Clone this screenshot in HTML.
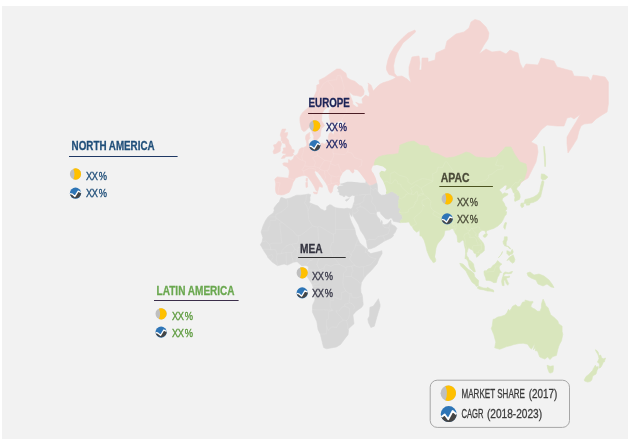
<!DOCTYPE html>
<html><head><meta charset="utf-8"><title>Regional market map</title>
<style>
html,body{margin:0;padding:0;background:#ffffff;}
body{width:630px;height:444px;overflow:hidden;position:relative;}
#panel{position:absolute;left:2px;top:6px;width:626px;height:433px;background:#f2f2f2;}
svg{position:absolute;left:0;top:0;}
text{font-family:"Liberation Sans",sans-serif;}
</style></head><body>
<div id="panel"></div>
<svg width="630" height="444" viewBox="0 0 630 444">
<g stroke-linejoin="round">
<path d="M284.2,194.6 L281.4,195.0 L277.0,194.2 L275.9,192.2 L275.4,189.0 L275.8,183.9 L274.8,179.1 L276.3,178.0 L277.2,176.9 L281.1,177.4 L284.5,177.7 L285.9,178.0 L288.0,178.0 L288.5,177.7 L289.1,174.3 L289.3,171.8 L289.1,170.1 L287.3,166.9 L283.6,165.4 L282.7,163.6 L284.1,162.7 L287.7,163.0 L288.5,163.0 L288.4,159.6 L288.9,159.6 L290.7,160.8 L291.4,160.2 L293.1,159.0 L294.0,156.5 L294.6,155.5 L295.4,155.4 L296.3,154.9 L297.4,154.3 L298.4,152.3 L299.5,149.0 L301.8,147.7 L303.6,147.7 L305.3,146.7 L306.6,146.0 L306.9,144.0 L306.1,140.5 L305.5,138.7 L305.7,136.2 L306.4,134.7 L308.9,132.9 L309.9,132.5 L309.8,133.6 L309.4,138.0 L310.5,137.6 L308.2,140.5 L308.2,142.9 L309.2,144.3 L310.5,145.7 L310.8,144.3 L312.6,145.0 L315.2,143.6 L316.5,146.0 L318.8,145.0 L321.1,143.6 L322.1,142.9 L324.3,144.3 L326.4,142.6 L328.5,139.8 L328.3,136.9 L329.2,133.6 L331.2,132.1 L333.6,135.1 L334.5,129.8 L332.7,127.5 L335.0,125.6 L340.7,125.6 L344.6,124.0 L341.9,120.8 L338.9,121.6 L335.4,122.8 L331.9,124.4 L330.4,122.0 L329.2,117.4 L329.2,110.6 L332.0,107.4 L336.1,101.9 L334.0,98.0 L330.4,99.0 L328.7,103.3 L327.1,107.4 L324.3,109.7 L322.0,113.6 L321.6,120.8 L324.6,125.6 L321.3,128.7 L320.7,132.1 L320.2,136.2 L318.8,138.0 L316.5,140.5 L314.5,140.8 L314.2,140.1 L313.7,138.7 L313.8,136.2 L312.2,132.5 L311.0,127.9 L309.9,126.0 L308.9,127.5 L305.3,131.0 L303.6,131.4 L301.8,129.8 L301.1,127.5 L300.0,122.0 L299.9,119.5 L300.0,117.0 L302.0,113.2 L304.8,110.6 L308.0,107.9 L310.6,104.2 L312.8,99.5 L316.7,90.5 L316.8,85.2 L319.5,84.1 L319.1,80.2 L324.6,77.4 L333.1,71.5 L336.8,69.0 L340.2,69.0 L346.0,73.3 L346.9,77.4 L350.4,79.7 L354.8,81.3 L359.3,85.2 L361.9,86.3 L364.2,91.0 L363.7,94.6 L361.0,96.6 L356.6,95.6 L353.1,95.1 L348.7,91.5 L352.7,101.9 L352.7,104.2 L356.6,107.0 L358.4,107.0 L358.0,104.7 L355.7,102.3 L359.3,103.8 L362.8,103.8 L361.9,99.0 L365.5,95.1 L369.0,97.0 L369.5,93.6 L368.1,89.4 L368.6,84.1 L367.8,83.0 L371.1,85.2 L373.3,91.0 L377.0,86.8 L380.0,84.3 L383.0,82.8 L388.6,81.0 L393.0,79.3 L396.0,77.3 L393.0,75.8 L389.0,74.5 L386.6,70.0 L386.4,67.0 L387.9,60.0 L390.0,54.3 L394.3,47.0 L398.6,42.0 L403.0,37.5 L408.0,33.0 L415.0,30.0 L415.5,32.0 L410.0,37.0 L403.0,43.0 L397.0,53.0 L395.0,58.6 L393.6,65.7 L394.3,73.0 L397.0,76.4 L402.0,76.0 L407.0,79.0 L411.0,82.6 L409.0,75.0 L409.0,67.0 L412.0,57.0 L419.0,56.0 L420.0,63.0 L419.0,70.0 L421.5,70.0 L422.0,58.0 L428.0,58.0 L428.0,62.0 L435.0,60.0 L436.0,53.0 L445.0,49.0 L447.0,41.0 L456.0,34.0 L464.0,32.0 L469.0,28.0 L471.0,22.0 L475.0,19.4 L480.0,21.0 L486.0,27.0 L489.0,33.0 L488.0,39.0 L484.0,45.0 L479.0,54.0 L486.0,49.0 L492.0,52.0 L500.0,51.0 L506.0,54.0 L510.0,50.0 L518.0,53.0 L520.0,63.0 L523.0,69.0 L526.0,64.0 L538.0,65.0 L541.0,58.0 L554.0,61.0 L557.0,67.0 L572.0,71.0 L574.0,76.0 L588.0,77.0 L591.0,81.0 L593.0,75.0 L605.0,77.0 L608.4,82.0 L608.4,104.0 L607.0,112.0 L602.0,115.0 L596.0,119.0 L592.0,123.0 L584.0,124.0 L581.0,126.0 L579.0,131.0 L577.0,139.0 L572.0,147.0 L568.0,153.0 L567.0,144.0 L567.0,137.0 L571.0,130.0 L576.0,122.0 L581.0,113.0 L580.0,114.5 L574.0,119.0 L571.0,117.0 L567.0,118.0 L564.0,126.0 L557.0,126.0 L547.0,125.0 L541.0,130.0 L536.0,137.0 L531.0,142.0 L537.0,145.0 L538.0,152.0 L536.0,162.0 L532.0,170.0 L528.0,178.0 L523.0,181.0 L519.0,185.0 L400.0,185.0 L377.0,183.0 L373.0,185.0 L369.3,185.7 L365.7,181.4 L340.0,183.5 L339.4,184.5 L338.3,185.8 L336.0,184.4 L334.4,185.0 L333.3,186.7 L332.8,188.9 L332.2,191.7 L330.8,193.3 L329.4,191.7 L328.3,188.9 L327.8,186.7 L326.0,183.3 L323.3,179.4 L320.6,175.6 L317.8,172.2 L315.6,171.0 L314.4,171.7 L315.6,175.0 L317.8,178.3 L320.0,181.7 L322.2,185.0 L322.5,187.2 L320.5,187.0 L319.5,186.0 L318.5,188.5 L317.6,191.7 L316.0,190.6 L314.4,186.7 L311.7,182.2 L308.9,178.3 L307.0,176.2 L305.5,175.5 L302.0,175.8 L298.7,176.7 L295.3,178.3 L295.0,179.5 L293.1,182.2 L291.4,187.8 L289.2,192.2Z" fill="#f3d5d2" stroke="#f3d5d2" stroke-width="0.6"/>
<path d="M282.2,129.1 L285.9,129.1 L284.1,132.9 L287.7,132.5 L287.5,134.7 L286.2,137.6 L288.4,140.1 L289.1,143.6 L291.2,146.7 L291.7,149.0 L294.2,150.0 L294.0,152.3 L292.8,153.6 L293.7,154.9 L291.7,156.2 L288.9,156.2 L285.5,156.5 L284.8,158.1 L281.3,158.5 L283.2,155.5 L285.7,154.9 L286.1,153.8 L282.0,153.0 L283.6,150.0 L283.2,148.0 L285.9,147.7 L285.9,145.7 L285.0,143.6 L282.4,142.9 L282.2,140.8 L281.1,140.8 L281.3,137.6 L280.2,135.1 L281.1,132.1Z" fill="#f3d5d2" stroke="#f3d5d2" stroke-width="0.6"/>
<path d="M278.3,141.2 L280.6,141.5 L281.5,144.0 L280.4,147.7 L280.2,151.3 L277.1,153.0 L273.9,153.9 L273.0,151.7 L274.6,148.4 L273.5,145.0 L276.2,144.3Z" fill="#f3d5d2" stroke="#f3d5d2" stroke-width="0.6"/>
<path d="M313.3,192.0 L317.6,192.6 L316.8,194.0 L314.0,193.6Z" fill="#f3d5d2" stroke="#f3d5d2" stroke-width="0.6"/>
<path d="M305.8,182.5 L307.4,182.3 L307.6,187.0 L306.0,187.5Z" fill="#f3d5d2" stroke="#f3d5d2" stroke-width="0.6"/>
<path d="M306.3,178.2 L307.5,178.4 L307.3,181.5 L306.0,181.0Z" fill="#f3d5d2" stroke="#f3d5d2" stroke-width="0.6"/>
<path d="M280.8,197.7 L281.8,197.5 L285.9,199.0 L290.1,198.0 L296.5,195.2 L300.0,195.2 L305.0,194.7 L308.5,194.0 L310.6,194.7 L309.9,197.7 L310.1,200.4 L309.1,202.4 L310.8,203.3 L314.5,204.8 L317.9,205.9 L320.5,208.8 L325.0,210.9 L326.6,209.5 L326.7,206.7 L329.6,204.8 L331.2,205.0 L333.6,206.7 L335.8,207.8 L339.3,208.3 L344.1,208.8 L347.4,208.1 L348.3,208.5 L351.0,209.0 L351.8,208.5 L352.9,212.7 L351.8,216.6 L350.1,214.3 L348.8,211.6 L349.9,217.9 L351.8,222.8 L354.8,228.9 L355.9,234.5 L359.8,242.9 L366.0,248.3 L367.8,249.5 L367.4,251.1 L370.8,253.6 L378.2,251.8 L381.9,250.7 L382.1,253.6 L379.2,258.4 L376.9,263.9 L371.3,270.5 L366.3,275.3 L363.5,279.1 L361.4,282.5 L360.7,288.1 L361.0,292.6 L362.3,295.2 L362.8,300.7 L363.2,304.8 L361.7,307.3 L356.4,310.9 L352.9,314.9 L354.0,323.7 L348.8,328.4 L348.0,334.7 L346.0,337.2 L340.5,344.5 L336.5,346.9 L326.6,348.8 L323.7,347.6 L322.8,344.5 L320.4,334.2 L318.1,329.7 L316.8,321.6 L312.4,311.9 L312.6,305.3 L314.9,299.9 L314.5,292.2 L312.9,286.5 L312.1,284.1 L306.6,275.7 L307.8,273.7 L308.5,270.7 L308.3,266.5 L305.9,265.5 L301.8,265.9 L297.2,261.7 L295.4,261.9 L293.3,262.3 L290.8,263.5 L287.5,265.1 L284.1,263.9 L277.6,265.7 L272.1,261.9 L267.9,257.4 L267.0,255.4 L263.6,250.5 L261.9,247.2 L260.3,244.8 L262.0,242.1 L262.9,237.7 L261.1,232.0 L263.1,225.7 L265.6,220.4 L268.4,216.4 L273.2,212.9 L274.2,210.6 L273.9,208.1 L277.8,203.1 L279.2,202.1Z" fill="#d7d7d7" stroke="#d7d7d7" stroke-width="0.6"/>
<path d="M378.4,298.7 L380.1,304.8 L380.0,306.9 L378.5,311.5 L376.6,317.9 L374.3,326.2 L370.9,327.5 L368.5,322.7 L367.8,319.0 L369.5,316.0 L369.9,307.3 L373.1,306.3 L376.6,301.5Z" fill="#d7d7d7" stroke="#d7d7d7" stroke-width="0.6"/>
<path d="M340.3,184.2 L341.0,180.0 L350.0,178.5 L360.0,179.0 L365.7,181.4 L369.3,185.7 L372.9,185.0 L375.7,183.6 L377.1,182.9 L377.7,191.2 L378.9,193.5 L381.4,195.2 L384.9,195.0 L386.7,194.0 L390.2,192.0 L392.3,191.5 L394.6,193.0 L396.0,193.5 L398.0,195.7 L399.4,195.7 L399.2,199.0 L398.3,201.4 L398.9,203.3 L398.3,204.8 L398.7,208.1 L400.5,208.3 L400.3,209.7 L398.9,212.0 L400.5,213.9 L402.2,215.4 L402.2,217.9 L403.1,219.3 L401.3,219.7 L400.6,220.2 L400.1,222.6 L398.3,222.2 L393.4,221.3 L392.0,218.2 L390.7,217.9 L388.3,219.3 L385.8,218.8 L384.2,217.3 L381.0,214.1 L380.0,211.6 L377.5,211.6 L376.1,212.9 L376.8,215.0 L377.3,216.6 L379.1,218.4 L380.0,219.7 L380.0,221.7 L381.0,223.3 L381.0,221.5 L381.7,220.4 L382.4,222.2 L382.1,223.7 L383.1,224.6 L384.9,224.8 L387.4,223.9 L389.0,222.2 L390.2,221.1 L390.9,219.9 L390.9,222.6 L391.6,224.4 L394.8,225.9 L396.9,228.3 L395.0,232.6 L393.2,234.5 L393.4,236.0 L391.1,237.9 L386.8,240.0 L384.9,240.8 L383.5,241.7 L378.0,245.2 L375.2,247.0 L370.8,248.7 L368.1,248.9 L367.6,247.7 L367.0,244.6 L366.3,240.2 L363.9,235.6 L360.5,230.5 L358.4,224.8 L355.6,220.2 L354.3,217.7 L353.1,216.1 L353.1,212.7 L352.4,210.4 L351.8,208.5 L352.7,206.7 L353.1,205.0 L354.0,202.4 L354.5,201.2 L354.5,198.5 L355.2,195.7 L354.1,195.7 L352.4,195.2 L349.2,197.2 L345.5,195.0 L344.9,196.5 L343.5,196.7 L342.6,195.7 L341.2,195.2 L339.6,194.7 L339.5,192.5 L337.7,191.5 L338.8,191.0 L338.4,188.9 L337.3,188.4 L337.9,186.8 L339.8,186.0 L342.5,185.8 L344.1,185.2Z" fill="#d7d7d7" stroke="#d7d7d7" stroke-width="0.6"/>
<path d="M345.3,200.2 L346.5,199.3 L349.4,198.5 L348.1,199.9 L346.5,201.2Z" fill="#d7d7d7" stroke="#d7d7d7" stroke-width="0.6"/>
<path d="M400.1,222.6 L401.3,222.6 L403.5,222.4 L405.4,222.4 L408.8,221.9 L409.7,223.3 L410.5,225.3 L412.3,226.6 L413.2,228.7 L414.3,230.2 L416.7,232.2 L418.8,230.9 L419.4,228.9 L419.7,231.3 L419.9,232.8 L419.9,235.8 L421.5,236.0 L424.0,240.0 L425.6,245.0 L427.0,251.0 L429.0,256.0 L430.5,259.0 L432.4,261.0 L434.0,258.5 L435.0,255.0 L436.0,248.0 L437.5,244.0 L440.0,241.0 L442.5,238.0 L444.0,235.5 L444.5,233.0 L445.0,230.5 L446.8,230.2 L449.4,230.0 L451.7,228.7 L453.5,228.7 L453.9,230.7 L455.4,233.4 L457.0,235.8 L457.7,242.1 L459.7,242.5 L461.5,241.0 L462.7,240.0 L463.8,241.2 L464.1,243.7 L464.6,246.2 L465.5,249.5 L465.5,254.4 L465.0,258.4 L465.2,258.9 L466.1,258.4 L467.1,260.1 L468.0,261.5 L468.5,263.7 L469.1,266.1 L470.3,268.5 L471.9,270.1 L474.0,271.9 L475.1,271.9 L475.4,271.7 L474.9,269.5 L474.0,266.9 L473.5,263.9 L471.9,262.1 L470.3,260.7 L469.1,260.1 L468.2,257.4 L466.8,256.0 L466.6,253.4 L467.6,250.7 L468.0,249.1 L468.9,247.2 L469.6,248.5 L470.3,249.1 L472.4,249.9 L473.3,251.3 L474.2,253.2 L476.0,253.6 L476.5,257.2 L477.5,256.8 L479.8,254.4 L480.6,253.6 L482.3,252.6 L484.3,250.5 L484.3,249.7 L484.4,246.6 L483.7,243.9 L482.5,241.9 L481.4,240.8 L479.7,238.9 L478.1,236.4 L478.4,234.1 L479.8,232.0 L482.1,230.5 L484.1,230.5 L485.1,231.5 L486.0,233.0 L486.6,231.1 L487.4,230.5 L491.9,228.9 L493.1,228.7 L495.2,227.6 L497.5,226.3 L500.0,223.9 L501.1,223.1 L502.7,220.6 L504.8,216.1 L506.2,214.5 L506.7,211.8 L505.1,210.9 L506.7,209.5 L506.7,207.6 L505.1,205.7 L504.2,203.3 L502.1,200.2 L502.5,198.7 L504.1,197.0 L507.6,195.0 L508.0,193.7 L505.8,193.2 L504.8,192.7 L502.3,194.2 L501.6,192.7 L499.5,190.2 L499.8,189.2 L502.7,187.3 L505.1,185.0 L507.1,185.5 L505.7,190.2 L506.9,189.4 L511.0,187.3 L511.1,187.6 L512.6,190.4 L513.3,192.7 L514.9,193.7 L514.3,195.5 L515.0,197.2 L514.5,200.2 L514.9,201.4 L517.0,200.4 L519.4,199.4 L520.2,197.2 L520.0,194.7 L519.1,192.7 L518.6,191.5 L516.6,189.2 L517.0,187.6 L519.8,185.2 L520.7,182.3 L521.9,181.0 L522.3,181.0 L523.0,181.0 L524.0,180.0 L527.0,170.0 L526.0,164.0 L520.0,162.0 L514.5,154.0 L511.0,147.0 L505.3,147.0 L503.0,150.0 L496.0,157.0 L488.0,158.0 L476.0,157.0 L470.0,153.0 L466.0,152.0 L462.0,154.0 L454.0,157.0 L446.0,158.0 L438.0,154.0 L431.0,152.0 L428.0,146.0 L420.0,145.0 L414.0,141.0 L408.0,142.0 L400.0,145.0 L398.5,153.6 L392.0,154.4 L388.0,154.7 L383.0,155.5 L378.5,157.0 L375.5,159.5 L374.3,163.0 L374.0,168.0 L380.0,178.0 L384.0,190.0 L386.7,194.0 L390.2,192.0 L392.3,191.5 L394.6,193.0 L396.0,193.5 L398.0,195.7 L399.4,195.7 L399.2,199.0 L398.3,201.4 L398.9,203.3 L398.3,204.8 L398.7,208.1 L400.5,208.3 L400.3,209.7 L398.9,212.0 L400.5,213.9 L402.2,215.4 L402.2,217.9 L403.1,219.3 L401.3,219.7 L400.6,220.2Z" fill="#d9e6bd" stroke="#d9e6bd" stroke-width="0.6"/>
<path d="M542.1,180.7 L540.5,186.4 L539.6,191.5 L537.5,194.5 L533.6,197.0 L529.3,198.6 L525.0,199.5 L524.0,203.4 L528.6,203.3 L533.0,202.5 L537.3,200.6 L540.6,196.8 L542.0,190.7 L543.4,185.0 L544.0,181.4Z" fill="#d9e6bd" stroke="#d9e6bd" stroke-width="0.6"/>
<path d="M521.0,203.3 L523.6,202.9 L523.8,206.4 L521.9,207.8 L520.6,205.7Z" fill="#d9e6bd" stroke="#d9e6bd" stroke-width="0.6"/>
<path d="M526.0,203.7 L530.0,203.2 L529.5,205.0 L526.5,205.2Z" fill="#d9e6bd" stroke="#d9e6bd" stroke-width="0.6"/>
<path d="M541.4,173.9 L544.3,174.3 L547.9,177.1 L545.7,179.3 L542.9,180.0 L541.0,178.6Z" fill="#d9e6bd" stroke="#d9e6bd" stroke-width="0.6"/>
<path d="M543.6,146.5 L544.3,146.5 L545.3,155.0 L545.6,163.0 L545.4,166.5 L544.8,166.5 L544.4,158.0 L543.8,150.0Z" fill="#d9e6bd" stroke="#d9e6bd" stroke-width="0.6"/>
<path d="M505.1,222.6 L506.7,222.8 L506.0,225.0 L505.0,229.4 L503.7,227.4 L503.9,225.5Z" fill="#d9e6bd" stroke="#d9e6bd" stroke-width="0.6"/>
<path d="M483.4,235.4 L484.8,233.9 L486.9,233.4 L487.4,234.5 L486.6,236.2 L485.0,237.5 L483.4,236.8Z" fill="#d9e6bd" stroke="#d9e6bd" stroke-width="0.6"/>
<path d="M432.5,254.8 L434.1,255.8 L434.9,257.4 L435.8,259.7 L435.6,261.5 L433.7,262.7 L432.6,262.1 L432.3,260.5 L432.3,258.0Z" fill="#d9e6bd" stroke="#d9e6bd" stroke-width="0.6"/>
<path d="M459.7,263.3 L463.0,264.1 L465.0,266.1 L465.7,266.9 L468.5,269.5 L471.0,270.9 L474.0,273.5 L474.7,276.5 L476.0,278.3 L478.6,280.5 L478.4,283.5 L478.3,286.1 L476.1,286.3 L475.6,284.9 L472.1,282.3 L468.7,276.5 L465.9,271.1 L461.1,266.3Z" fill="#d9e6bd" stroke="#d9e6bd" stroke-width="0.6"/>
<path d="M477.2,288.1 L478.6,286.3 L480.0,286.7 L483.2,287.9 L486.4,288.3 L487.4,287.3 L490.5,288.9 L493.5,290.1 L493.8,292.0 L491.0,291.2 L487.4,291.0 L483.9,289.9 L479.5,289.3Z" fill="#d9e6bd" stroke="#d9e6bd" stroke-width="0.6"/>
<path d="M483.9,271.5 L485.0,270.5 L486.2,271.1 L488.0,268.9 L491.0,268.1 L492.8,265.5 L494.5,264.5 L496.3,262.5 L497.7,260.5 L500.0,262.9 L501.9,264.1 L499.6,266.1 L499.1,267.9 L499.8,270.1 L501.6,272.5 L499.6,272.9 L498.9,275.5 L497.7,277.1 L497.0,279.5 L496.3,282.5 L493.8,282.7 L491.0,280.9 L488.7,280.5 L486.0,280.3 L485.7,278.1 L484.3,274.7Z" fill="#d9e6bd" stroke="#d9e6bd" stroke-width="0.6"/>
<path d="M503.7,272.9 L505.1,271.9 L508.7,272.7 L511.8,271.5 L512.6,271.5 L511.3,273.5 L508.7,273.7 L506.0,273.5 L504.2,274.5 L503.7,276.3 L506.0,276.5 L509.4,276.5 L509.2,275.7 L509.5,277.3 L506.9,277.9 L506.4,278.5 L507.4,281.1 L508.7,283.5 L507.8,285.3 L506.2,283.5 L505.1,279.9 L503.9,280.5 L504.1,285.7 L502.3,285.5 L501.6,281.5 L502.1,278.5 L503.0,276.1Z" fill="#d9e6bd" stroke="#d9e6bd" stroke-width="0.6"/>
<path d="M504.4,236.8 L507.2,236.8 L507.2,240.0 L506.2,242.1 L506.2,245.8 L508.3,246.2 L510.4,248.3 L510.6,249.1 L509.2,248.3 L507.8,246.6 L504.4,245.8 L505.0,245.0 L503.5,244.2 L503.0,241.5 L504.1,240.0Z" fill="#d9e6bd" stroke="#d9e6bd" stroke-width="0.6"/>
<path d="M506.9,260.5 L509.5,257.2 L513.1,254.8 L514.9,259.5 L514.3,261.9 L512.9,263.3 L510.4,261.5 L509.2,259.5Z" fill="#d9e6bd" stroke="#d9e6bd" stroke-width="0.6"/>
<path d="M506.9,250.7 L508.7,251.3 L510.4,252.4 L512.2,249.3 L513.3,252.0 L512.2,254.0 L510.4,254.4 L509.2,255.8 L508.1,254.8 L506.9,253.4Z" fill="#d9e6bd" stroke="#d9e6bd" stroke-width="0.6"/>
<path d="M498.4,257.6 L500.7,255.2 L502.5,251.5 L501.9,253.6 L499.1,257.2Z" fill="#d9e6bd" stroke="#d9e6bd" stroke-width="0.6"/>
<path d="M527.0,273.0 L530.0,272.0 L534.0,275.0 L539.0,274.0 L544.0,276.0 L549.0,280.0 L552.0,284.0 L554.0,287.6 L551.0,287.0 L547.0,284.0 L543.0,286.0 L538.0,284.0 L536.0,280.0 L531.0,278.0 L528.0,276.0Z" fill="#d9e6bd" stroke="#d9e6bd" stroke-width="0.6"/>
<path d="M543.1,299.1 L544.9,302.9 L545.8,305.7 L548.1,307.7 L549.0,310.3 L550.7,314.7 L555.0,318.2 L557.8,321.1 L558.7,323.7 L562.1,326.2 L562.1,331.5 L562.8,334.2 L561.5,340.7 L559.6,344.2 L558.7,346.6 L557.8,349.6 L556.4,355.5 L552.9,356.5 L550.0,359.6 L547.4,356.8 L546.9,357.5 L544.9,359.1 L541.5,357.8 L539.6,356.8 L537.8,351.8 L537.0,350.8 L535.4,350.8 L535.2,347.6 L533.4,349.8 L534.8,343.5 L531.5,349.1 L530.2,348.1 L527.6,344.2 L523.2,343.3 L519.1,343.5 L514.0,344.5 L510.4,345.7 L506.7,346.6 L499.8,349.3 L494.7,347.8 L495.8,342.1 L493.8,334.7 L491.3,328.6 L492.2,325.9 L493.1,319.3 L494.7,318.9 L497.7,317.1 L500.9,316.5 L505.1,315.0 L507.2,312.3 L508.5,309.3 L509.7,311.0 L511.3,308.6 L512.6,306.3 L515.6,304.7 L517.9,306.8 L520.2,306.6 L522.5,302.2 L525.5,301.6 L524.9,300.0 L529.9,301.4 L532.9,301.4 L533.2,302.0 L531.6,304.1 L530.8,306.5 L533.1,308.4 L534.3,308.8 L537.5,311.2 L540.1,311.3 L541.4,307.7 L541.5,304.1 L541.9,302.5Z" fill="#d9e6bd" stroke="#d9e6bd" stroke-width="0.6"/>
<path d="M547.0,365.3 L550.2,366.3 L553.4,365.8 L553.4,368.7 L552.9,372.0 L550.7,373.1 L549.3,372.8 L547.9,369.3Z" fill="#d9e6bd" stroke="#d9e6bd" stroke-width="0.6"/>
<path d="M595.3,349.8 L595.9,349.8 L598.0,351.8 L598.5,353.3 L599.0,355.8 L600.1,355.0 L601.0,355.5 L601.5,357.8 L603.5,358.8 L605.6,358.0 L604.7,360.6 L604.5,361.8 L602.8,362.6 L603.1,362.9 L601.5,366.3 L599.9,368.2 L599.0,367.4 L599.4,366.0 L599.4,363.8 L597.3,362.1 L597.8,361.3 L599.0,358.8 L598.5,356.3 L598.0,354.8 L596.0,351.3Z" fill="#d9e6bd" stroke="#d9e6bd" stroke-width="0.6"/>
<path d="M595.3,365.2 L596.4,367.1 L598.2,366.6 L598.2,368.4 L597.1,370.3 L596.0,374.1 L592.9,375.8 L592.3,377.8 L591.8,380.1 L590.2,381.5 L587.6,382.1 L584.5,380.9 L584.4,379.5 L586.1,376.4 L588.8,374.4 L592.7,370.3 L593.4,368.4 L594.3,367.1Z" fill="#d9e6bd" stroke="#d9e6bd" stroke-width="0.6"/>
<g fill="none" stroke="#ffffff" stroke-opacity="0.14" stroke-width="0.7" stroke-linejoin="round"><path d="M267.9,216.8 L275.8,216.8"/><path d="M275.8,216.8 L275.8,220.6 L270.0,220.6 L270.0,226.1 L268.2,227.2 L268.2,230.9 L261.1,230.9"/><path d="M287.3,199.4 L288.0,206.4 L284.8,209.2 L281.5,211.8 L275.8,214.5 L275.8,217.7 L282.7,222.8 L293.3,231.3 L297.0,235.8 L298.6,235.6 L301.5,234.9 L312.4,226.1"/><path d="M282.7,222.8 L279.7,222.8 L281.5,241.0 L281.8,243.1 L271.8,243.1 L269.6,244.6"/><path d="M306.4,195.0 L305.7,200.9 L304.5,202.6 L307.3,206.7 L308.0,211.1 L308.7,219.5 L312.4,226.1 L317.7,227.2 L319.5,226.3 L333.6,234.7 L333.6,233.7 L335.4,233.7 L335.4,229.4 L335.4,207.8"/><path d="M308.0,211.1 L309.4,207.6 L311.5,204.0"/><path d="M335.4,229.4 L356.4,229.4"/><path d="M317.7,227.2 L318.6,240.2 L315.1,245.2 L315.2,246.8 L316.0,248.3"/><path d="M333.6,234.7 L333.6,242.7 L331.7,242.7 L330.1,248.3 L331.7,252.6 L332.7,257.0 L335.9,259.9 L339.6,264.5"/><path d="M297.6,250.9 L298.3,247.2 L303.6,248.3 L307.1,248.7 L314.2,247.0 L316.0,248.3"/><path d="M298.6,235.6 L298.6,240.2 L297.4,243.3 L291.6,244.2 L295.1,249.1 L297.6,250.9 L296.0,261.7"/><path d="M316.0,248.3 L314.5,255.2 L312.1,260.5 L309.8,260.5 L306.4,264.9"/><path d="M286.4,264.3 L286.1,255.6 L286.2,252.4"/><path d="M293.3,262.3 L292.1,257.4 L291.2,252.4"/><path d="M281.5,253.6 L286.2,252.4 L291.2,252.4 L292.8,252.4 L295.1,249.1"/><path d="M281.5,253.6 L282.0,250.7 L283.4,248.9 L286.2,246.2 L290.0,244.2 L291.6,244.2"/><path d="M281.5,253.6 L277.1,254.0 L276.5,252.4 L275.3,249.5 L271.0,249.9 L269.6,244.6 L265.6,240.8 L262.0,242.1"/><path d="M277.1,254.0 L276.3,259.3 L277.9,265.7"/><path d="M267.7,256.4 L272.3,254.4 L273.0,257.4 L270.9,260.7"/><path d="M271.0,249.9 L267.0,249.1 L261.7,249.5"/><path d="M316.0,248.3 L317.7,254.4 L316.0,254.4 L318.6,259.5 L316.8,264.5 L319.8,270.1"/><path d="M318.6,259.5 L324.8,256.4 L331.7,252.6"/><path d="M339.6,264.5 L333.6,264.7 L331.0,266.3 L325.7,264.5 L324.1,267.5 L322.7,275.5 L319.8,278.9 L319.3,282.3 L316.8,284.3 L314.2,283.7 L312.8,286.1"/><path d="M308.5,269.9 L314.7,270.1 L319.8,270.1 L324.1,267.5"/><path d="M314.7,270.1 L316.7,271.9 L316.7,278.3 L313.3,279.1 L310.8,282.3"/><path d="M334.0,257.0 L337.2,254.0 L340.7,255.8 L344.2,253.8 L348.5,250.9 L349.9,253.4 L351.3,255.4 L351.8,253.2 L354.3,249.1 L355.6,245.4 L357.5,240.0 L359.4,237.9"/><path d="M355.6,245.4 L360.2,245.0 L363.3,246.0 L366.2,249.3 L365.1,252.4 L367.0,252.6 L369.0,256.4 L374.3,258.4 L376.1,258.4 L370.8,264.5 L365.5,266.1 L363.7,266.7 L361.6,266.9 L358.6,267.3 L354.8,265.7 L354.7,265.3 L353.1,263.5 L349.5,258.9 L351.3,255.4"/><path d="M363.7,266.7 L363.7,276.1 L364.7,277.9"/><path d="M360.5,283.9 L357.7,280.5 L351.3,276.5 L351.3,273.5 L353.1,271.1 L352.0,267.1 L351.3,266.1 L354.7,265.3"/><path d="M351.3,266.1 L346.0,267.1 L345.7,267.5 L339.6,264.5"/><path d="M345.7,267.5 L346.5,270.1 L343.5,273.1 L343.5,277.3 L342.8,282.1 L343.4,286.5 L345.7,291.0 L349.4,293.4 L351.3,293.6 L352.2,297.7 L356.6,297.9 L362.6,295.6"/><path d="M351.3,276.5 L345.1,276.5"/><path d="M345.7,291.0 L341.6,292.6 L341.6,299.3 L339.8,299.1 L336.1,297.9 L333.6,296.6 L333.6,300.7 L330.1,300.7 L330.1,297.0 L330.6,295.6 L329.7,289.1 L325.7,288.5 L324.8,290.6 L322.3,290.8 L320.5,286.3 L314.2,286.3 L312.9,286.5"/><path d="M330.1,300.7 L330.1,307.3 L332.6,310.3 L323.9,309.8 L316.0,309.8 L312.1,309.6"/><path d="M332.6,310.3 L328.3,311.7 L328.3,319.6 L326.6,319.6 L326.6,333.8 L320.4,334.2"/><path d="M326.6,325.7 L328.0,330.4 L331.9,326.8 L336.5,327.5 L338.9,323.1 L343.2,320.1 L346.5,320.5 L347.8,325.1 L347.6,328.4 L349.4,330.4"/><path d="M343.2,320.1 L340.2,316.4 L337.2,313.2 L335.9,310.7 L338.9,311.1 L342.3,306.9 L344.9,306.1 L349.4,308.4 L349.4,314.3 L348.7,318.1 L346.5,320.5"/><path d="M344.9,306.1 L344.6,304.4 L349.9,302.8 L349.0,302.0 L349.5,298.7 L350.1,293.8"/><path d="M349.9,302.8 L352.2,303.8 L354.7,306.9 L353.6,309.2"/><path d="M352.9,212.7 L354.8,213.4 L357.5,211.6 L358.4,210.4 L356.6,208.1 L360.2,206.9 L359.8,203.6 L354.8,205.2 L354.1,204.0"/><path d="M360.2,206.9 L362.6,207.1 L365.5,209.0 L370.2,213.4 L373.4,213.6 L375.2,213.9 L376.8,215.0"/><path d="M359.8,203.6 L363.7,201.2 L364.0,197.2 L366.2,194.5 L370.4,194.2 L370.4,187.9"/><path d="M355.2,195.7 L356.1,195.2 L358.4,195.2 L363.2,194.5 L366.2,194.5"/><path d="M370.4,194.2 L372.5,197.7 L371.5,202.1 L375.5,206.9 L375.5,209.2 L376.9,211.6"/><path d="M370.4,187.9 L369.9,183.9 L368.1,184.2 L364.6,183.1"/><path d="M370.4,187.9 L373.4,189.9 L376.1,187.9 L377.7,191.2"/><path d="M382.1,223.7 L382.4,224.6 L384.2,227.4 L388.8,227.9 L389.5,229.4 L388.4,233.7 L383.1,235.8 L377.8,236.6 L375.2,239.8 L369.0,239.2 L367.6,240.6 L366.9,241.2"/><path d="M383.1,235.8 L385.1,240.8"/><path d="M388.8,227.9 L389.9,224.6 L390.9,223.1"/><path d="M446.4,161.2 L452.1,169.2 L451.9,172.9 L459.9,175.7 L461.6,179.9 L470.7,180.4 L476.8,182.8 L485.7,180.2 L489.0,177.1 L488.2,175.2 L492.0,174.1 L497.3,169.8 L502.8,168.9 L503.2,165.7 L499.5,166.0 L495.6,165.1 L497.5,159.3"/><path d="M445.5,161.5 L442.7,167.4 L437.9,167.2 L436.7,172.1 L432.6,173.8 L433.0,181.2 L427.2,184.4 L421.7,187.6 L421.3,188.6 L423.6,194.2 L425.4,195.7 L428.8,198.5 L430.9,201.4 L430.3,205.5 L431.8,209.2 L434.4,211.1 L439.7,214.1 L443.2,216.1 L447.0,216.4"/><path d="M432.8,214.3 L434.4,211.1"/><path d="M432.8,214.3 L438.5,217.5 L442.9,219.3 L447.0,219.7 L447.0,216.4 L448.4,217.7 L450.0,215.7 L453.9,216.6 L458.5,213.2 L461.1,212.9 L463.2,215.7 L465.7,217.3 L465.7,220.8 L463.8,223.3 L463.9,225.3 L466.2,227.4 L466.6,229.2 L468.4,230.7 L470.1,230.2 L471.2,228.3 L471.9,228.5 L473.3,228.3 L476.5,227.6 L477.5,226.6 L479.8,227.4 L479.8,229.4 L482.1,230.5"/><path d="M448.4,217.7 L450.0,219.1 L453.9,218.6 L453.9,216.6"/><path d="M411.8,225.9 L416.7,224.2 L415.1,220.8 L414.1,218.4 L415.7,216.1 L418.5,214.3 L421.0,211.6 L422.9,209.2 L422.9,205.0 L424.5,206.2 L422.0,204.0 L422.0,200.4 L427.0,198.2 L428.8,198.5"/><path d="M398.9,212.0 L401.7,212.9 L404.5,212.9 L408.4,211.8 L408.6,209.5 L411.8,207.4 L413.7,207.1 L414.1,204.5 L415.5,203.6 L414.8,202.1 L416.9,201.2 L417.8,196.2 L421.7,195.0 L423.6,194.2"/><path d="M399.4,198.2 L401.3,199.0 L402.9,197.5 L405.2,196.5 L405.8,194.5 L408.8,193.7 L411.1,194.2 L413.7,194.5 L415.3,193.2 L415.7,192.0 L417.3,191.5 L417.8,195.5 L420.8,193.5 L423.6,193.7"/><path d="M384.0,182.3 L386.7,181.0 L390.2,183.6 L392.0,183.6 L394.8,179.6 L397.3,181.2 L397.5,183.4 L400.6,184.2 L401.5,187.1 L404.7,189.9 L408.8,193.7"/><path d="M390.2,183.6 L390.2,173.5 L394.8,171.8 L399.0,175.2 L405.9,177.1 L408.1,179.1 L407.9,181.8 L411.4,184.4 L415.3,181.8 L416.7,181.0 L421.1,179.1 L422.6,178.5 L427.3,179.3 L433.0,181.2"/><path d="M411.1,194.2 L412.1,191.7 L410.4,188.4 L413.7,186.6 L415.8,184.7 L418.5,186.3 L421.3,188.6"/><path d="M454.4,232.2 L454.9,229.6 L456.0,228.9 L456.2,225.0 L458.6,221.7 L459.5,219.1 L462.9,216.6 L463.2,215.7"/><path d="M447.0,219.7 L448.2,219.9 L450.0,220.6 L450.0,222.2 L454.6,222.8 L452.4,225.0 L453.1,227.2 L454.4,225.7 L454.9,229.6"/><path d="M447.0,219.7 L447.0,223.1 L448.0,224.4 L448.6,229.4 L448.7,229.8"/><path d="M470.1,230.2 L468.2,232.8 L464.5,234.3 L463.9,236.8 L465.5,241.0 L464.8,243.7 L466.6,247.9 L467.3,250.7 L465.7,254.0"/><path d="M468.2,232.8 L468.9,234.7 L470.1,234.7 L469.8,237.9 L471.7,237.5 L473.8,237.1 L476.3,238.9 L476.5,241.2 L477.9,242.9 L477.9,245.4 L477.2,245.6 L473.3,245.6 L472.4,247.0 L473.1,250.9"/><path d="M471.9,228.5 L473.1,230.2 L475.1,232.8 L476.7,234.1 L474.9,235.1 L477.2,236.4 L479.7,240.8 L481.3,243.3 L481.3,244.8 L481.3,249.7 L478.4,250.9 L479.0,252.6 L476.8,252.4 L476.0,253.6"/><path d="M477.9,245.4 L481.3,244.8"/><path d="M468.2,261.7 L469.9,263.1 L471.7,262.1"/><path d="M514.1,193.0 L518.2,190.7"/><path d="M511.0,187.1 L515.6,182.3 L517.9,183.1 L520.5,179.1 L522.1,180.7"/><path d="M485.0,270.5 L485.7,272.1 L489.2,271.7 L493.8,271.5 L495.8,266.1 L499.1,266.1"/><path d="M340.7,76.2 L342.5,81.3 L344.2,88.4 L342.6,92.5 L344.4,98.5 L343.9,102.8 L345.1,105.6 L346.9,111.4 L340.7,121.6"/><path d="M334.0,98.0 L333.1,87.3 L327.6,80.8 L323.0,84.1 L320.2,89.4 L316.5,100.9 L312.8,108.3 L312.9,116.6 L314.0,117.9 L312.1,126.4 L311.0,127.9"/><path d="M327.6,80.8 L336.6,79.7 L337.2,75.6 L340.7,75.0 L342.5,81.3"/><path d="M340.7,125.6 L339.6,133.2 L341.1,138.0 L345.8,140.1 L346.0,146.4 L349.0,147.7 L347.4,152.0 L352.0,153.3 L354.1,157.4 L358.4,159.0 L362.1,159.9 L361.4,165.4 L358.7,167.4"/><path d="M288.0,178.0 L296.9,180.7"/><path d="M275.5,182.0 L280.2,182.8 L278.8,187.9 L277.9,194.2"/><path d="M304.5,176.9 L303.6,170.9 L301.8,170.1 L304.6,166.0 L305.7,161.8 L302.5,160.2 L301.5,160.2 L298.6,158.7 L295.6,155.2"/><path d="M302.5,160.2 L301.8,156.2 L303.0,152.7 L303.9,148.4"/><path d="M316.3,146.0 L317.2,152.3 L317.7,155.5 L312.6,157.7 L315.6,162.4 L314.2,166.3 L308.2,166.3 L304.6,166.0"/><path d="M317.7,155.5 L324.6,160.2 L331.2,161.5 L333.8,155.9 L332.9,152.3 L333.5,145.7 L331.5,144.3 L326.2,144.3"/><path d="M331.2,161.5 L330.4,163.6 L335.2,165.7 L338.2,163.9 L341.1,172.1 L343.5,172.7"/><path d="M332.9,153.6 L345.1,154.6 L347.4,152.0"/><path d="M333.5,145.7 L336.8,142.6 L338.2,139.8 L341.1,138.0"/><path d="M328.5,138.3 L335.4,137.6 L338.2,139.8"/><path d="M334.2,131.7 L339.6,133.2"/><path d="M303.6,170.9 L309.8,168.0 L313.1,168.6 L315.4,169.2 L315.4,171.8"/><path d="M331.3,175.7 L336.3,177.1 L339.1,176.0 L341.8,177.1"/><path d="M330.4,163.6 L328.7,169.8 L327.1,170.4 L329.0,174.1 L331.3,175.7 L330.8,181.0 L331.7,183.6"/><path d="M325.5,187.1 L327.8,184.7 L331.7,183.6 L337.7,182.6 L338.2,183.6 L337.3,185.2"/><path d="M314.2,166.3 L319.7,168.3 L321.4,164.8 L324.6,160.2"/><path d="M319.7,168.3 L320.4,169.5 L324.4,170.9 L327.1,170.4"/><path d="M315.4,171.8 L318.3,172.1 L320.4,169.5"/><path d="M324.4,170.9 L324.8,173.8 L325.5,177.7 L323.9,180.4"/></g>
<path d="M339.8,182.8 L339.7,180.0 L340.6,176.7 L342.8,172.8 L346.7,169.4 L349.4,169.7 L351.0,172.0 L352.8,173.5 L354.4,171.7 L354.0,169.5 L357.2,170.0 L359.4,172.2 L362.8,176.7 L365.6,180.6 L365.6,182.8 L360.6,182.8 L357.2,182.2 L351.7,181.7 L347.2,181.7 L342.8,183.3 L339.8,183.7Z" fill="#f2f2f2" />
<path d="M371.4,169.3 L372.9,165.7 L377.0,165.0 L382.9,166.4 L386.4,169.3 L385.0,171.4 L381.4,170.7 L379.3,172.9 L380.0,176.4 L382.9,180.7 L385.0,185.7 L386.4,190.7 L385.7,193.6 L382.0,194.3 L380.0,191.4 L379.3,187.0 L377.0,182.9 L375.7,177.9 L373.6,173.6 L372.0,171.4Z" fill="#f2f2f2" />
</g>
<text x="71.6" y="150.0" fill="#1f4e79" stroke="#1f4e79" stroke-width="0.3" font-weight="bold" font-size="12.6" textLength="83.0" lengthAdjust="spacingAndGlyphs">NORTH AMERICA</text>
<line x1="69.0" x2="177.6" y1="156.5" y2="156.5" stroke="#1f3864" stroke-width="1.15"/>
<g transform="translate(75.5,174.0) scale(0.560)"><circle r="10" fill="#bfbfbf"/><path d="M-3.8,-9.25 A10,10 0 1 1 -3.8,9.25 Q0.2,0 -3.8,-9.25Z" fill="#ffc000"/></g>
<g transform="translate(75.5,193.2) scale(0.560)"><circle r="10" fill="#2e75b6"/><path d="M-9.95,0.8 L-6,1.6 L-1,5.8 L4.8,-3.8 L9.9,-1.2 A10,10 0 0 1 -9.95,0.8Z" fill="#454545"/><path d="M-9.7,0.8 L-6,1.6 L-1,5.8 L4.8,-3.8 L9.7,-1.3" fill="none" stroke="#fff" stroke-width="2.3" stroke-linejoin="round" stroke-linecap="butt"/></g>
<text transform="translate(86.0,179.6) scale(0.785,1)" fill="#1f4e79" stroke="#1f4e79" stroke-width="0.36" vector-effect="non-scaling-stroke" font-size="11.8"><tspan>X</tspan><tspan dx="-0.6">X</tspan><tspan dx="1.0">%</tspan></text>
<text transform="translate(86.0,197.0) scale(0.785,1)" fill="#1f4e79" stroke="#1f4e79" stroke-width="0.36" vector-effect="non-scaling-stroke" font-size="11.8"><tspan>X</tspan><tspan dx="-0.6">X</tspan><tspan dx="1.0">%</tspan></text>
<text x="308.6" y="106.6" fill="#1c2458" stroke="#1c2458" stroke-width="0.3" font-weight="bold" font-size="12.6" textLength="41.3" lengthAdjust="spacingAndGlyphs">EUROPE</text>
<line x1="308.1" x2="364.7" y1="113.5" y2="113.5" stroke="#4a1c24" stroke-width="1.15"/>
<g transform="translate(314.8,125.8) scale(0.560)"><circle r="10" fill="#bfbfbf"/><path d="M-3.8,-9.25 A10,10 0 1 1 -3.8,9.25 Q0.2,0 -3.8,-9.25Z" fill="#ffc000"/></g>
<g transform="translate(314.8,145.6) scale(0.560)"><circle r="10" fill="#2e75b6"/><path d="M-9.95,0.8 L-6,1.6 L-1,5.8 L4.8,-3.8 L9.9,-1.2 A10,10 0 0 1 -9.95,0.8Z" fill="#454545"/><path d="M-9.7,0.8 L-6,1.6 L-1,5.8 L4.8,-3.8 L9.7,-1.3" fill="none" stroke="#fff" stroke-width="2.3" stroke-linejoin="round" stroke-linecap="butt"/></g>
<text transform="translate(326.1,130.8) scale(0.785,1)" fill="#1c2364" stroke="#1c2364" stroke-width="0.36" vector-effect="non-scaling-stroke" font-size="11.8"><tspan>X</tspan><tspan dx="-0.6">X</tspan><tspan dx="1.0">%</tspan></text>
<text transform="translate(326.1,147.9) scale(0.785,1)" fill="#1c2364" stroke="#1c2364" stroke-width="0.36" vector-effect="non-scaling-stroke" font-size="11.8"><tspan>X</tspan><tspan dx="-0.6">X</tspan><tspan dx="1.0">%</tspan></text>
<text x="440.7" y="181.7" fill="#4a4a38" stroke="#4a4a38" stroke-width="0.3" font-weight="bold" font-size="12.6" textLength="28.8" lengthAdjust="spacingAndGlyphs">APAC</text>
<line x1="439.3" x2="492.9" y1="186.5" y2="186.5" stroke="#4b5320" stroke-width="1.15"/>
<g transform="translate(447.2,198.8) scale(0.560)"><circle r="10" fill="#bfbfbf"/><path d="M-3.8,-9.25 A10,10 0 1 1 -3.8,9.25 Q0.2,0 -3.8,-9.25Z" fill="#ffc000"/></g>
<g transform="translate(447.2,218.9) scale(0.560)"><circle r="10" fill="#2e75b6"/><path d="M-9.95,0.8 L-6,1.6 L-1,5.8 L4.8,-3.8 L9.9,-1.2 A10,10 0 0 1 -9.95,0.8Z" fill="#454545"/><path d="M-9.7,0.8 L-6,1.6 L-1,5.8 L4.8,-3.8 L9.7,-1.3" fill="none" stroke="#fff" stroke-width="2.3" stroke-linejoin="round" stroke-linecap="butt"/></g>
<text transform="translate(457.1,205.6) scale(0.785,1)" fill="#4a4a38" stroke="#4a4a38" stroke-width="0.36" vector-effect="non-scaling-stroke" font-size="11.8"><tspan>X</tspan><tspan dx="-0.6">X</tspan><tspan dx="1.0">%</tspan></text>
<text transform="translate(457.1,222.7) scale(0.785,1)" fill="#4a4a38" stroke="#4a4a38" stroke-width="0.36" vector-effect="non-scaling-stroke" font-size="11.8"><tspan>X</tspan><tspan dx="-0.6">X</tspan><tspan dx="1.0">%</tspan></text>
<text x="300.0" y="252.9" fill="#33333f" stroke="#33333f" stroke-width="0.3" font-weight="bold" font-size="12.6" textLength="22.5" lengthAdjust="spacingAndGlyphs">MEA</text>
<line x1="298.1" x2="345.7" y1="257.5" y2="257.5" stroke="#333333" stroke-width="1.15"/>
<g transform="translate(302.2,272.8) scale(0.560)"><circle r="10" fill="#bfbfbf"/><path d="M-3.8,-9.25 A10,10 0 1 1 -3.8,9.25 Q0.2,0 -3.8,-9.25Z" fill="#ffc000"/></g>
<g transform="translate(302.2,292.9) scale(0.560)"><circle r="10" fill="#2e75b6"/><path d="M-9.95,0.8 L-6,1.6 L-1,5.8 L4.8,-3.8 L9.9,-1.2 A10,10 0 0 1 -9.95,0.8Z" fill="#454545"/><path d="M-9.7,0.8 L-6,1.6 L-1,5.8 L4.8,-3.8 L9.7,-1.3" fill="none" stroke="#fff" stroke-width="2.3" stroke-linejoin="round" stroke-linecap="butt"/></g>
<text transform="translate(312.1,279.6) scale(0.785,1)" fill="#3a3a4a" stroke="#3a3a4a" stroke-width="0.36" vector-effect="non-scaling-stroke" font-size="11.8"><tspan>X</tspan><tspan dx="-0.6">X</tspan><tspan dx="1.0">%</tspan></text>
<text transform="translate(312.1,296.7) scale(0.785,1)" fill="#3a3a4a" stroke="#3a3a4a" stroke-width="0.36" vector-effect="non-scaling-stroke" font-size="11.8"><tspan>X</tspan><tspan dx="-0.6">X</tspan><tspan dx="1.0">%</tspan></text>
<text x="156.6" y="295.0" fill="#6aa84f" stroke="#6aa84f" stroke-width="0.3" font-weight="bold" font-size="12.6" textLength="78.0" lengthAdjust="spacingAndGlyphs">LATIN AMERICA</text>
<line x1="154.0" x2="238.6" y1="300.5" y2="300.5" stroke="#3b2e4a" stroke-width="1.15"/>
<g transform="translate(161.1,313.8) scale(0.560)"><circle r="10" fill="#bfbfbf"/><path d="M-3.8,-9.25 A10,10 0 1 1 -3.8,9.25 Q0.2,0 -3.8,-9.25Z" fill="#ffc000"/></g>
<g transform="translate(161.1,332.1) scale(0.560)"><circle r="10" fill="#2e75b6"/><path d="M-9.95,0.8 L-6,1.6 L-1,5.8 L4.8,-3.8 L9.9,-1.2 A10,10 0 0 1 -9.95,0.8Z" fill="#454545"/><path d="M-9.7,0.8 L-6,1.6 L-1,5.8 L4.8,-3.8 L9.7,-1.3" fill="none" stroke="#fff" stroke-width="2.3" stroke-linejoin="round" stroke-linecap="butt"/></g>
<text transform="translate(172.0,319.6) scale(0.785,1)" fill="#5b9a3c" stroke="#5b9a3c" stroke-width="0.36" vector-effect="non-scaling-stroke" font-size="11.8"><tspan>X</tspan><tspan dx="-0.6">X</tspan><tspan dx="1.0">%</tspan></text>
<text transform="translate(172.0,336.6) scale(0.785,1)" fill="#5b9a3c" stroke="#5b9a3c" stroke-width="0.36" vector-effect="non-scaling-stroke" font-size="11.8"><tspan>X</tspan><tspan dx="-0.6">X</tspan><tspan dx="1.0">%</tspan></text>
<rect x="430.2" y="380.2" width="139.3" height="47.2" rx="7" ry="7" fill="#f2f2f2" stroke="#a6a6a6" stroke-width="1"/>
<g transform="translate(448.3,393.2) scale(0.770)"><circle r="10" fill="#bfbfbf"/><path d="M-3.8,-9.25 A10,10 0 1 1 -3.8,9.25 Q0.2,0 -3.8,-9.25Z" fill="#ffc000"/></g>
<g transform="translate(448.7,414.1) scale(0.800)"><circle r="10" fill="#2e75b6"/><path d="M-9.3,3.6 L-5,0.4 L-0.6,6.5 L4.9,-3.9 L9.99,0.5 A10,10 0 0 1 -9.3,3.6Z" fill="#454545"/><path d="M-9.1,3.6 L-5,0.4 L-0.6,6.5 L4.9,-3.9 L9.7,0.4" fill="none" stroke="#fff" stroke-width="2.3" stroke-linejoin="round" stroke-linecap="butt"/></g>
<text y="397.6" fill="#3a3a3a" stroke="#3a3a3a" stroke-width="0.3" font-size="12.8"><tspan x="461.5" textLength="63.5" lengthAdjust="spacingAndGlyphs">MARKET SHARE</tspan> <tspan x="528.7" textLength="28.5" lengthAdjust="spacingAndGlyphs">(2017)</tspan></text>
<text y="417.9" fill="#3a3a3a" stroke="#3a3a3a" stroke-width="0.3" font-size="12.8"><tspan x="461.5" textLength="22.1" lengthAdjust="spacingAndGlyphs">CAGR</tspan> <tspan x="486.9" textLength="55.2" lengthAdjust="spacingAndGlyphs">(2018-2023)</tspan></text>
</svg>
</body></html>
